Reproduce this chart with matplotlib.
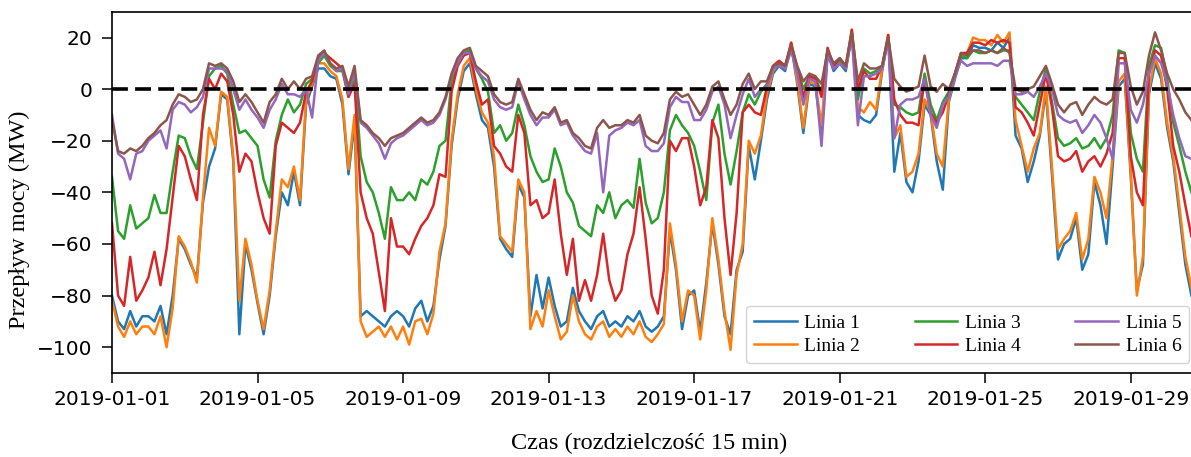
import numpy as np
import matplotlib
matplotlib.use("Agg")
import matplotlib.pyplot as plt
import matplotlib.dates as mdates

# values sampled every 4 hours starting 2019-01-01 00:00 (MW)
linia_1 = [
    -80, -90, -93, -86, -92, -88,  -88, -90, -84, -95, -80, -58,
    -62, -68, -73, -44, -30, -23,  -2, -4, -28, -95, -60, -70,
    -83, -95, -80, -57, -40, -45,  -32, -45, -6, 1, 8, 8,
    5, 4, -6, -33, -13, -88,  -86, -88, -90, -92, -88, -86,
    -88, -92, -85, -82, -90, -84,  -66, -53, -22, -4, 7, 10,
    -2, -12, -15, -30, -58, -62,  -65, -37, -42, -88, -72, -85,
    -73, -84, -92, -90, -77, -86,  -90, -93, -88, -86, -92, -90,
    -92, -88, -90, -86, -92, -94,  -92, -88, -55, -70, -93, -80,
    -78, -94, -75, -52, -68, -88,  -95, -70, -63, -22, -35, -20,
    -4, 6, 9, 7, 17, 2,  -17, 2, 1, -17, 14, 7,
    10, 7, 22, -10, -12, -13,  -10, 7, 20, -32, -17, -36,
    -40, -28, -6, -10, -28, -39,  -5, 4, 12, 12, 17, 16,
    16, 15, 18, 16, 20, -18,  -23, -36, -28, -18, -1, -33,
    -66, -60, -58, -50, -70, -64,  -36, -45, -60, -30, 1, 4,
    -34, -78, -68, -2, 10, 4,  -15, -28, -48, -68, -80]
linia_2 = [
    -82, -92, -96, -90, -95, -92,  -92, -95, -88, -100, -85, -57,
    -61, -67, -75, -42, -15, -22,  -1, -3, -26, -82, -58, -68,
    -82, -93, -78, -55, -35, -38,  -30, -43, -4, 2, 10, 10,
    7, 5, -4, -31, -10, -90,  -96, -94, -92, -96, -92, -97,
    -92, -99, -90, -89, -95, -87,  -63, -52, -20, -2, 9, 12,
    0, -9, -13, -26, -57, -60,  -63, -35, -40, -93, -86, -92,
    -78, -88, -97, -94, -80, -90,  -95, -97, -92, -90, -96, -93,
    -96, -92, -95, -90, -96, -98,  -95, -91, -52, -68, -90, -78,
    -80, -97, -78, -50, -66, -86,  -101, -72, -60, -20, -25, -18,
    -2, 7, 10, 8, 18, 3,  -15, 3, 2, -14, 15, 8,
    11, 8, 23, -7, -9, -5,  -8, 8, 21, -19, -14, -34,
    -32, -25, -4, -9, -25, -30,  -4, 5, 13, 14, 20, 19,
    19, 17, 21, 18, 22, -12,  -22, -32, -23, -17, 1, -30,
    -62, -58, -55, -48, -66, -58,  -34, -40, -50, -26, 3, 6,
    -32, -80, -65, 0, 12, 6,  -13, -26, -45, -65, -77]
linia_3 = [
    -34, -55, -58, -45, -54, -52,  -50, -41, -48, -48, -32, -18,
    -19, -26, -31, -13, 5, 8,  9, 6, -6, -17, -16, -19,
    -22, -35, -42, -20, -10, -4,  -9, -6, 2, 4, 10, 13,
    9, 7, 7, -3, 5, -26,  -36, -40, -48, -58, -38, -43,
    -43, -40, -43, -35, -37, -32,  -22, -20, 3, 10, 14, 15,
    8, 4, -1, -17, -14, -20,  -17, -6, -14, -26, -32, -36,
    -35, -23, -30, -40, -44, -53,  -55, -57, -45, -48, -40, -50,
    -45, -43, -46, -27, -44, -52,  -50, -40, -16, -10, -14, -17,
    -22, -32, -43, -13, -6, -25,  -37, -24, -9, -2, -6, -1,
    2, 8, 10, 9, 16, 8,  0, 5, 4, -1, 15, 9,
    11, 8, 21, -4, 8, 6,  7, 9, 20, -6, -7, -9,
    -10, -9, 6, -6, -12, -5,  -1, 6, 13, 12, 15, 14,
    14, 15, 14, 15, 15, -3,  -6, -9, -12, -1, 8, -5,
    -19, -22, -21, -19, -23, -22,  -19, -23, -19, -10, 15, 14,
    -17, -27, -32, 9, 17, 16,  4, -13, -22, -32, -40]
linia_4 = [
    -52, -80, -84, -65, -82, -78,  -73, -63, -76, -62, -42, -22,
    -26, -35, -43, -10, 4, 0,  6, 3, -10, -32, -25, -28,
    -40, -50, -56, -22, -13, -15,  -17, -13, -1, 3, 12, 14,
    12, 10, 8, -3, 2, -40,  -50, -56, -71, -86, -50, -61,
    -61, -64, -58, -53, -50, -45,  -33, -34, -1, 9, 13, 14,
    3, -6, -4, -22, -25, -30,  -32, -10, -17, -45, -43, -50,
    -48, -35, -56, -72, -58, -82,  -74, -82, -72, -56, -74, -82,
    -78, -64, -56, -38, -58, -80,  -87, -70, -20, -24, -19, -19,
    -30, -45, -38, -12, -19, -50,  -72, -48, -9, -6, -9, -10,
    1, 9, 11, 9, 18, 8,  -3, 5, 4, -3, 16, 9,
    12, 9, 23, 0, 7, 4,  4, 9, 21, -4, -10, -13,
    -13, -14, 4, -9, -13, -9,  -2, 6, 14, 14, 18, 18,
    17, 19, 18, 19, 18, -7,  -9, -13, -18, -6, 6, -7,
    -26, -28, -27, -24, -32, -28,  -26, -30, -25, -17, 12, 12,
    -26, -40, -45, 6, 15, 13,  0, -22, -32, -45, -57]
linia_5 = [
    -10, -25, -27, -35, -25, -24,  -20, -18, -16, -23, -8, -5,
    -6, -9, -7, -3, 8, 8,  8, 7, 0, -8, -4, -8,
    -11, -15, -8, -4, 2, -2,  -2, -3, 0, -11, 11, 14,
    10, 7, 8, -2, 7, -13,  -15, -18, -21, -27, -21, -19,
    -18, -16, -14, -12, -14, -13,  -10, -4, 5, 10, 14, 14,
    8, 5, 3, -4, -7, -8,  -7, 3, -4, -10, -14, -11,
    -11, -8, -14, -13, -18, -21,  -24, -25, -17, -40, -18, -16,
    -15, -13, -14, -12, -22, -24,  -24, -21, -7, -3, -5, -5,
    -12, -12, -8, -1, 1, -6,  -19, -10, -2, 4, -3, 0,
    1, 8, 9, 8, 15, 6,  -6, 4, 3, -22, 13, 8,
    10, 8, 20, -14, 5, 5,  6, 8, 19, -19, -6, -4,
    -4, -3, 4, -10, -15, -6,  -3, 5, 11, 9, 10, 10,
    10, 10, 9, 11, 11, -2,  -2, -1, -3, 1, 6, 0,
    -10, -12, -13, -12, -17, -14,  -10, -13, -19, -27, 10, 10,
    -8, -13, -6, 6, 13, 10,  2, -10, -19, -26, -27]
linia_6 = [
    -12, -24, -25, -23, -24, -22,  -19, -17, -14, -12, -6, -2,
    -3, -5, -4, 0, 10, 9,  10, 8, 3, -5, -2, -5,
    -9, -13, -5, -2, 4, 0,  3, 0, 4, 5, 13, 15,
    10, 8, 9, 1, 9, -12,  -14, -17, -19, -22, -19, -18,
    -17, -15, -13, -11, -13, -12,  -9, -3, 6, 12, 15, 16,
    9, 7, 5, -2, -5, -6,  -5, 4, -2, -8, -12, -9,
    -10, -7, -13, -12, -17, -19,  -22, -23, -15, -12, -15, -14,
    -14, -12, -13, -10, -18, -20,  -21, -17, -4, -1, -3, -2,
    -6, -10, -6, 1, 3, -4,  -10, -6, 2, 6, 0, 3,
    3, 9, 10, 9, 17, 9,  3, 6, 5, 2, 15, 10,
    12, 9, 22, 3, 10, 8,  8, 9, 20, 4, 1, -1,
    0, 1, 13, 1, -1, 2,  0, 6, 14, 13, 15, 15,
    14, 15, 14, 16, 14, 0,  -1, 0, 1, 5, 9, 2,
    -6, -9, -6, -5, -10, -6,  -3, -5, -6, -4, 14, 14,
    1, -6, -1, 13, 22, 15,  6, 0, -4, -9, -12]

series = [linia_1, linia_2, linia_3, linia_4, linia_5, linia_6]
labels = ["Linia 1", "Linia 2", "Linia 3", "Linia 4", "Linia 5", "Linia 6"]
colors = ["#1f77b4", "#ff7f0e", "#2ca02c", "#d62728", "#9467bd", "#8c564b"]
tick_days = ["2019-01-01", "2019-01-05", "2019-01-09", "2019-01-13",
             "2019-01-17", "2019-01-21", "2019-01-25", "2019-01-29"]
y_ticks = [20, 0, -20, -40, -60, -80, -100]

start = np.datetime64("2019-01-01T00:00")
times = start + np.arange(len(linia_1)) * np.timedelta64(4, "h")

W, H = 1191, 457
fig = plt.figure(figsize=(W / 100, H / 100), dpi=100)
ax_left, ax_right = 112 / W, 1201 / W
ax_bottom, ax_top = 1 - 373 / H, 1 - 11.7 / H
ax = fig.add_axes([ax_left, ax_bottom, ax_right - ax_left, ax_top - ax_bottom])

for vals, lab, col in zip(series, labels, colors):
    ax.plot(times, vals, color=col, lw=1.8, label=lab)

ax.axhline(0, color="black", lw=2.6, dashes=(4.4, 2.0), zorder=5)

end = start + np.timedelta64(int(29.93 * 24 * 60), "m")
ax.set_xlim(start, end)
ax.set_ylim(-110, 30)
ax.set_xticks([np.datetime64(d) for d in tick_days])
ax.xaxis.set_major_formatter(mdates.DateFormatter("%Y-%m-%d"))
ax.set_yticks(y_ticks)
ax.tick_params(axis="both", labelsize=14.5, length=7, width=1.1, colors="black")
ax.tick_params(axis="x", pad=5)
ax.tick_params(axis="y", pad=7)
for s in ax.spines.values():
    s.set_linewidth(1.2)

serif = ["Liberation Serif", "DejaVu Serif"]
fig.text(19 / W, 1 - 220 / H, "Przepływ mocy (MW)", rotation=90,
         ha="center", va="center", fontsize=17.5, family=serif)
fig.text(649 / W, 1 - 443 / H, "Czas (rozdzielczość 15 min)",
         ha="center", va="center", fontsize=17.5, family=serif)

leg = ax.legend(loc="lower left", bbox_to_anchor=(746 / W, 1 - 363 / H),
                bbox_transform=fig.transFigure, ncol=3,
                prop={"family": serif, "size": 14},
                handlelength=2.2, handletextpad=0.4, columnspacing=2.8,
                labelspacing=0.3, borderpad=0.4, borderaxespad=0.0,
                framealpha=0.85)

fig.savefig("out.png", dpi=100)
